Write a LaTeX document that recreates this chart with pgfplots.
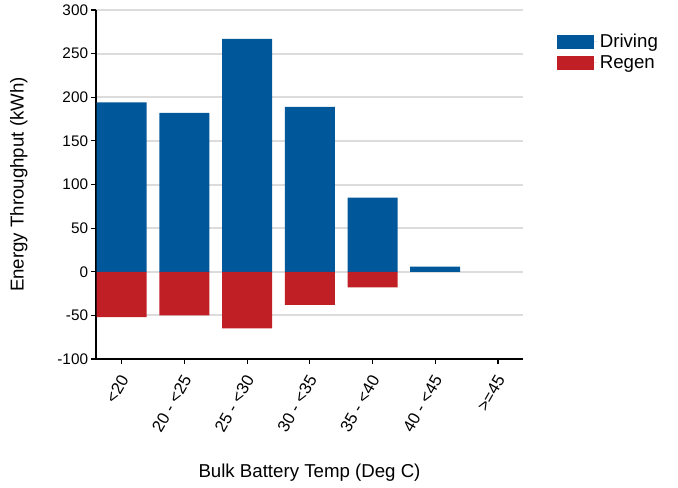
\documentclass[border=0pt]{standalone}
\usepackage{pgfplots}
\pgfplotsset{compat=1.18}
\usepackage{fontspec}
\setmainfont{Liberation Sans}
\definecolor{drivc}{RGB}{0,88,155}
\definecolor{regc}{RGB}{192,31,38}
\definecolor{gridc}{RGB}{220,220,220}
\begin{document}
\begin{tikzpicture}[x=0.75pt,y=0.75pt]
\useasboundingbox (-96,-128) rectangle (582,359);
\begin{axis}[
  at={(0,0)}, anchor=south west,
  scale only axis, width=320.25pt, height=261.75pt,
  /pgf/number format/assume math mode=true,
  yticklabel style={font=\fontsize{11.5}{13}\selectfont, inner sep=1pt, xshift=-1pt},
  xticklabel style={font=\fontsize{12.5}{14}\selectfont, xshift=2.6pt, yshift=-8.6pt, rotate=60, anchor=east, inner sep=1pt},
  label style={font=\fontsize{14}{16}\selectfont},
  xmin=-0.41, xmax=6.4, ymin=-100, ymax=300,
  ytick={-100,-50,0,50,100,150,200,250,300},
  xtick={0,1,2,3,4,5,6},
  xticklabels={{<20},{20 - <25},{25 - <30},{30 - <35},{35 - <40},{40 - <45},{>=45}},
  axis x line*=bottom, axis y line*=left,
  axis line style={black, line width=0.9pt},
  tick style={black, line width=0.9pt},
  tick align=outside, major tick length=3.75pt,
  ymajorgrids, grid style={gridc, line width=1.5pt},
  xlabel={Bulk Battery Temp (Deg C)},
  ylabel={Energy Throughput (kWh)},
  xlabel style={at={(axis description cs:0.5,-0.327)}, anchor=center},
  ylabel style={at={(axis description cs:-0.181,0.5)}, anchor=center},
  ybar, bar width=37.5pt, bar shift=0pt,
  legend cell align=left,
  legend style={at={(1.07,0.948)}, anchor=north west, draw=none, fill=none,
    font=\fontsize{14}{16}\selectfont, row sep=0.5pt},
  legend image code/.code={\fill[#1] (0pt,-5.25pt) rectangle (27.75pt,5.25pt); \path (0pt,0pt) -- (30pt,0pt);},
  clip=false,
]
\addplot[fill=drivc, draw=none] coordinates {(0,194) (1,182) (2,267) (3,189) (4,85) (5,6)};
\addplot[fill=regc, draw=none] coordinates {(0,-52) (1,-50) (2,-65) (3,-38) (4,-18)};
\legend{Driving, Regen}
\end{axis}
\end{tikzpicture}
\end{document}
